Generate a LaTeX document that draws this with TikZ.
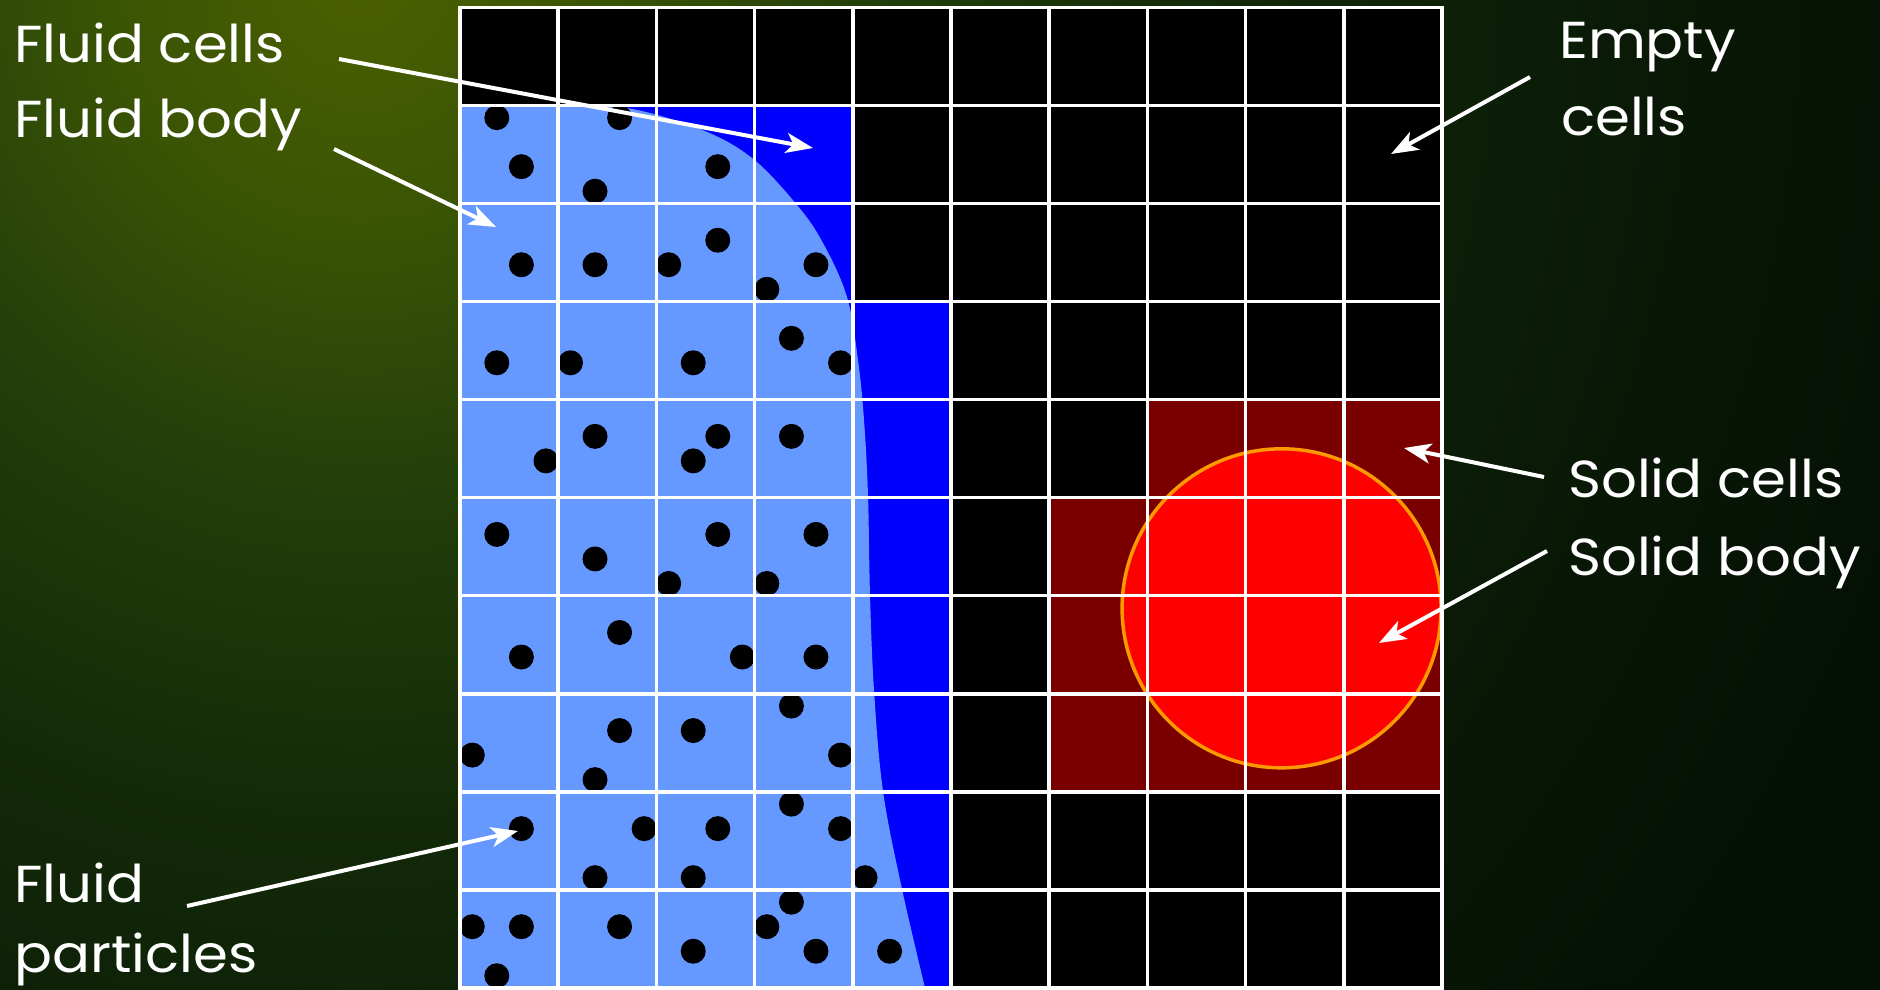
\documentclass[tikz,border=0pt]{standalone}
\usepackage{fontspec}
\setmainfont{Poppins}[FakeStretch=1.08]
\usetikzlibrary{arrows.meta}
\definecolor{bgdark}{HTML}{051005}
\definecolor{bgcA}{HTML}{4C6000}
\definecolor{bgcB}{HTML}{3A5405}
\definecolor{bgcC}{HTML}{223E0A}
\definecolor{bgcD}{HTML}{132A08}
\definecolor{bgcE}{HTML}{0B1C07}
\definecolor{fluidblue}{HTML}{0000FF}
\definecolor{bodyblue}{HTML}{6699FF}
\definecolor{solidcell}{HTML}{7A0000}
\definecolor{solidbody}{HTML}{FF0000}
\definecolor{solidedge}{HTML}{FF9900}
\pgfdeclareradialshading{bgglow}{\pgfpoint{0bp}{0bp}}{color(0bp)=(bgcA); color(3.1bp)=(bgcB); color(6.5bp)=(bgcC); color(10.5bp)=(bgcD); color(15bp)=(bgcE); color(20.5bp)=(bgdark); color(50bp)=(bgdark)}
\tikzset{
  lbl/.style={text=white, font=\fontsize{52}{60}\selectfont, inner sep=0pt, anchor=base west},
  callout/.style={draw=white, line width=4pt, -{Stealth[length=27pt,width=20pt,inset=7pt]}},
  gridline/.style={draw=white, line width=3.5pt, line cap=rect},
  particle/.style={fill=black},
}
\begin{document}
\begin{tikzpicture}[x=1pt,y=-1pt]
\useasboundingbox (0,0) rectangle (1880,989);
% background
\fill[bgdark] (0,0) rectangle (1880,989);
\begin{scope}
  \clip (0,0) rectangle (1880,989);
  \shade[shading=bgglow] (360,-20) circle (2000pt);
\end{scope}
% grid cells
\begin{scope}[shift={(460,7.3)}, x=98.2pt, y=-98.07pt]
  \fill[black] (0,0) rectangle (10,10);
  \fill[fluidblue] (0,1) rectangle (4,10);
  \fill[fluidblue] (4,3) rectangle (5,10);
  \fill[solidcell] (7,4) rectangle (10,5);
  \fill[solidcell] (6,5) rectangle (10,8);
\end{scope}
% fluid body
\begin{scope}
  \clip (460,105) rectangle (1442,988);
  \fill[bodyblue] (455,104) -- plot[smooth, tension=0.6] coordinates {(560,105) (627,108) (700,129) (752,158) (797,205) (823,243) (847,297) (858,360) (864,420) (868,495) (870,595) (874,690) (883,791) (902,889) (926,992)} -- (455,992) -- cycle;
\end{scope}
% solid body
\filldraw[fill=solidbody, draw=solidedge, line width=3.5pt] (1281.6,608.3) circle (159.5pt);
% particles and grid lines
\begin{scope}[shift={(460,7.3)}, x=98.2pt, y=-98.07pt]
  \foreach \m/\n in {1/4,6/4,2/6,5/7,10/6,
                     2/10,5/10,8/10,10/9,14/10,12/11,
                     1/14,4/14,9/14,13/13,15/14,
                     3/18,5/17,10/17,9/18,13/17,
                     1/21,5/22,10/21,8/23,14/21,12/23,
                     2/26,6/25,11/26,14/26,
                     0/30,6/29,5/31,9/29,13/28,15/30,
                     2/33,7/33,5/35,10/33,9/35,13/32,15/33,16/35,
                     0/37,2/37,1/39,6/37,9/38,13/36,12/37,14/38,17/38}
    \fill[particle] ({(\m+0.5)/4},{(\n+0.5)/4}) circle (12.5pt);
  \foreach \i in {0,...,10} \draw[gridline] (\i,0) -- (\i,10);
  \foreach \j in {0,...,10} \draw[gridline] (0,\j) -- (10,\j);
\end{scope}
% labels
\node[lbl] (fc) at (14,62) {Fluid cells};
\node[lbl] (fb) at (14,137) {Fluid body};
\node[lbl] (ec1) at (1559,58) {Empty};
\node[lbl] (ec2) at (1561,135) {cells};
\node[lbl] (sc) at (1568,497) {Solid cells};
\node[lbl] (sb) at (1568,575) {Solid body};
\node[lbl] (fp1) at (14,902) {Fluid};
\node[lbl] (fp2) at (14,972) {particles};
% arrows
\coordinate (fc-s) at (339,59);   \coordinate (fc-t) at (813,148);
\coordinate (fb-s) at (334,149);  \coordinate (fb-t) at (496,227);
\coordinate (fp-s) at (187,906);  \coordinate (fp-t) at (518,831);
\coordinate (ec-s) at (1530,77);  \coordinate (ec-t) at (1391,154);
\coordinate (sc-s) at (1544,477); \coordinate (sc-t) at (1404,448);
\coordinate (sb-s) at (1547,551); \coordinate (sb-t) at (1379,643);
\draw[callout] (fc-s) -- (fc-t);
\draw[callout] (fb-s) -- (fb-t);
\draw[callout] (fp-s) -- (fp-t);
\draw[callout] (ec-s) -- (ec-t);
\draw[callout] (sc-s) -- (sc-t);
\draw[callout] (sb-s) -- (sb-t);
\end{tikzpicture}
\end{document}
